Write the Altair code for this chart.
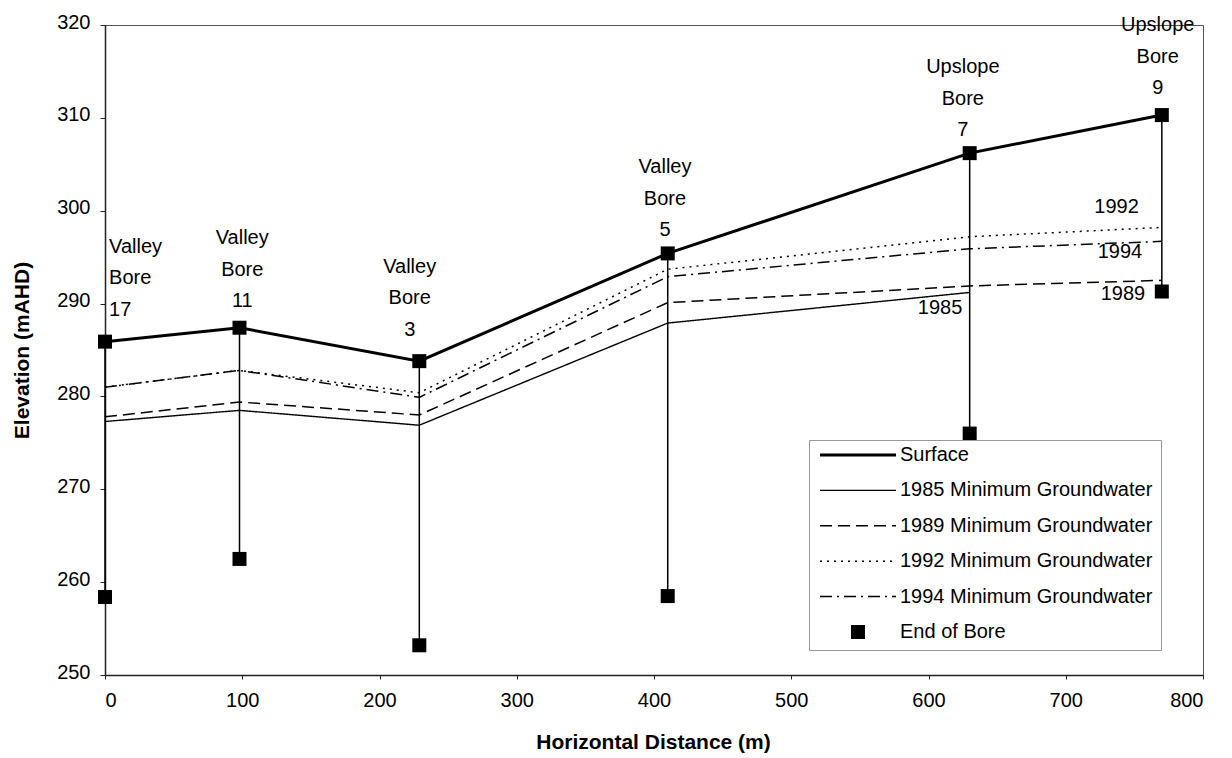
import altair as alt
import pandas as pd

FONT = "Liberation Sans"

# ---------------- data ----------------
bore_ids = ["17", "11", "3", "5", "7", "9"]
bore_types = ["Valley", "Valley", "Valley", "Valley", "Upslope", "Upslope"]
bore_x = [0, 98, 229, 410, 630, 770]
surface = [285.9, 287.4, 283.8, 295.4, 306.2, 310.3]
end_of_bore = [258.4, 262.5, 253.2, 258.5, 276.0, 291.3]

gw_1985 = [277.3, 278.5, 276.9, 287.9, 291.2, None]
gw_1989 = [277.8, 279.4, 278.0, 290.1, 291.9, 292.5]
gw_1992 = [281.0, 282.8, 280.4, 293.7, 297.2, 298.2]
gw_1994 = [281.0, 282.8, 279.9, 292.9, 295.9, 296.7]

# bore label anchors (centre of the first line)
label_x = [3, 100, 222, 408, 625, 767]
label_y = [296.1, 297.06, 293.94, 304.7, 315.47, 320.0]
label_align = ["left", "center", "center", "center", "center", "center"]

# year annotations on the right
year_text = ["1992", "1994", "1989", "1985"]
year_x = [737, 739.5, 741.7, 608.4]
year_y = [300.4, 295.55, 291.0, 289.5]

series_names = [
    "Surface",
    "1985 Minimum Groundwater",
    "1989 Minimum Groundwater",
    "1992 Minimum Groundwater",
    "1994 Minimum Groundwater",
    "End of Bore",
]
# line styles (pixels)
series_dash = [[76], [76], [12, 6], [2, 5], [12, 5, 2, 5]]
series_width = [3.0, 1.4, 1.5, 1.5, 1.5]


# legend symbol paths: dashed strokes drawn as small filled bars
def dash_path(pattern, width, length=76.0, unit=7.0):
    half = width / 2.0
    parts = []
    pos = -length / 2.0
    end = length / 2.0
    i = 0
    while pos < end - 1e-9:
        seg = pattern[i % len(pattern)]
        if i % 2 == 0:
            a, b = pos, min(pos + seg, end)
            parts.append(
                f"M{a/unit:.3f},{-half/unit:.3f}H{b/unit:.3f}"
                f"V{half/unit:.3f}H{a/unit:.3f}Z"
            )
        pos += seg
        i += 1
    return "".join(parts)


series_shape = [dash_path(p, w) for p, w in zip(series_dash, series_width)]
series_shape.append("M-1,-1H1V1H-1Z")

# ---------------- tables ----------------
bores = pd.DataFrame({
    "x": bore_x,
    "surface": surface,
    "end": end_of_bore,
    "label": [f"{t}\nBore\n{b}" for t, b in zip(bore_types, bore_ids)],
    "lx": label_x,
    "ly": label_y,
    "align": label_align,
    "series": ["End of Bore"] * len(bore_x),
})

gw_rows = []
for name, vals in zip(series_names[1:5], [gw_1985, gw_1989, gw_1992, gw_1994]):
    for x, v in zip(bore_x, vals):
        if v is not None:
            gw_rows.append({"x": x, "y": v, "series": name})
gw = pd.DataFrame(gw_rows)

years = pd.DataFrame({"x": year_x, "y": year_y, "t": year_text})

xscale = alt.Scale(domain=[0, 800], nice=False)
yscale = alt.Scale(domain=[250, 320], nice=False, zero=False)
shape_scale = alt.Scale(domain=series_names, range=series_shape)

xaxis = alt.Axis(
    values=list(range(0, 801, 100)), tickSize=4, labelPadding=11,
    title="Horizontal Distance (m)", titleX=548, titleY=67,
    titleAlign="center", titleBaseline="middle",
)
yaxis = alt.Axis(
    values=list(range(250, 321, 10)), tickSize=5, labelPadding=10,
    labelOffset=-3,
    title="Elevation (mAHD)", titleX=-83, titleY=325, titleAngle=270,
    titleAlign="center", titleBaseline="middle",
)

legend = alt.Legend(
    title=None, orient="none", legendX=704, legendY=415,
    symbolSize=196, symbolOffset=31, labelOffset=32, clipHeight=14,
    rowPadding=15.4, padding=8, strokeColor="#999",
    labelFont=FONT, labelFontSize=20, labelColor="black", labelLimit=400,
    symbolFillColor="black", symbolStrokeWidth=0,
)

base_b = alt.Chart(bores)

rules = base_b.mark_rule(color="black", strokeWidth=1.5).encode(
    x=alt.X("x:Q", scale=xscale, axis=xaxis),
    y=alt.Y("surface:Q", scale=yscale, axis=yaxis),
    y2="end:Q",
)

gw_layers = []
for name, dash, w in zip(series_names[1:5], series_dash[1:5], series_width[1:5]):
    gw_layers.append(
        alt.Chart(gw).transform_filter(alt.datum.series == name).mark_line(
            color="black", strokeWidth=w, strokeDash=dash if len(dash) > 1 else [1, 0]
        ).encode(
            x=alt.X("x:Q", scale=xscale),
            y=alt.Y("y:Q", scale=yscale),
        )
    )

surf_line = base_b.mark_line(color="black", strokeWidth=series_width[0]).encode(
    x=alt.X("x:Q", scale=xscale),
    y=alt.Y("surface:Q", scale=yscale),
)

surf_pts = base_b.mark_point(
    shape="square", filled=True, color="black", size=196, opacity=1
).encode(
    x=alt.X("x:Q", scale=xscale),
    y=alt.Y("surface:Q", scale=yscale),
)

end_pts = base_b.mark_point(
    filled=True, color="black", size=196, opacity=1,
).encode(
    x=alt.X("x:Q", scale=xscale),
    y=alt.Y("end:Q", scale=yscale),
    shape=alt.Shape("series:N", scale=shape_scale, legend=legend),
)

labels_left = base_b.transform_filter(alt.datum.align == "left").mark_text(
    font=FONT, fontSize=20, color="black", lineBreak="\n", lineHeight=31.5,
    align="left", baseline="middle",
).encode(
    x=alt.X("lx:Q", scale=xscale),
    y=alt.Y("ly:Q", scale=yscale),
    text="label:N",
)

labels_center = base_b.transform_filter(alt.datum.align == "center").mark_text(
    font=FONT, fontSize=20, color="black", lineBreak="\n", lineHeight=31.5,
    align="center", baseline="middle",
).encode(
    x=alt.X("lx:Q", scale=xscale),
    y=alt.Y("ly:Q", scale=yscale),
    text="label:N",
)

year_labels = alt.Chart(years).mark_text(
    font=FONT, fontSize=20, color="black", align="center", baseline="middle"
).encode(
    x=alt.X("x:Q", scale=xscale),
    y=alt.Y("y:Q", scale=yscale),
    text="t:N",
)

chart = alt.layer(
    rules, *gw_layers, surf_line, surf_pts, end_pts,
    labels_left, labels_center, year_labels,
).properties(
    width=1098, height=650,
    autosize=alt.AutoSizeParams(type="none"),
    padding={"left": 97, "top": 17, "right": 20, "bottom": 83},
).configure_view(
    stroke="#555", strokeWidth=1,
).configure_axis(
    labelFont=FONT, labelFontSize=20, labelColor="black",
    titleFont=FONT, titleFontSize=21, titleFontWeight="bold", titleColor="black",
    grid=False, domainColor="#222", domainWidth=1.5, tickColor="#222",
)

chart.save("out.html", embed_options={"renderer": "svg", "actions": False})
